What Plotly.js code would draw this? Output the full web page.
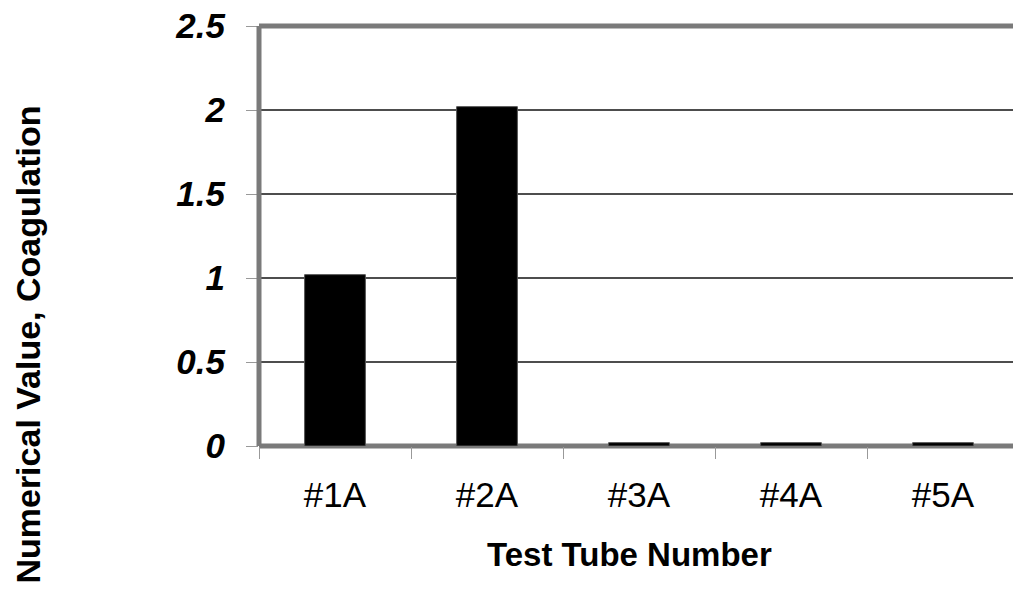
<!DOCTYPE html>
<html>
<head>
<meta charset="utf-8">
<script src="https://cdn.plot.ly/plotly-3.0.1.min.js"></script>
<style>
html,body{margin:0;padding:0;overflow:hidden;background:#fff;}
#chart{width:1020px;height:607px;}
</style>
</head>
<body>
<div id="chart"></div>
<script>
var categories = ["#1A", "#2A", "#3A", "#4A", "#5A"];
var coagulation = [1.02, 2.02, 0.02, 0.02, 0.02];
var yTickValues = [0, 0.5, 1, 1.5, 2, 2.5];
var yTickLabels = ["0", "0.5", "1", "1.5", "2", "2.5"];
var xTitle = "Test Tube Number";
var yTitle = "Numerical Value, Coagulation";

var F = "Liberation Sans, Arial, sans-serif";
var borderColor = "#7a7a7a";

var trace = {
  type: "bar",
  x: categories,
  y: coagulation,
  marker: {color: "#000000", line: {color: "#555555", width: 1}},
  hoverinfo: "x+y"
};

var layout = {
  width: 1020,
  height: 607,
  margin: {l: 259, r: 1, t: 26, b: 160.5},
  paper_bgcolor: "#ffffff",
  plot_bgcolor: "#ffffff",
  showlegend: false,
  bargap: 0.6,
  xaxis: {
    type: "category",
    tickson: "boundaries",
    ticks: "outside",
    ticklen: 12,
    tickwidth: 1,
    tickcolor: "#999999",
    showgrid: false,
    zeroline: false,
    showline: false,
    tickfont: {family: F, size: 35, color: "#000000"},
    ticklabelstandoff: 25
  },
  yaxis: {
    range: [0, 2.5],
    tickvals: yTickValues,
    ticktext: yTickLabels,
    ticks: "outside",
    ticklen: 12,
    tickwidth: 1,
    tickcolor: "#999999",
    showgrid: true,
    gridcolor: "#4d4d4d",
    gridwidth: 1.5,
    zeroline: false,
    showline: false,
    tickfont: {family: F, size: 35, color: "#000000", weight: "bold", style: "italic"},
    ticklabelstandoff: 14
  },
  shapes: [
    {type: "line", xref: "paper", yref: "paper", x0: 0, x1: 1, y0: 0, y1: 0, line: {color: borderColor, width: 5}, layer: "below"},
    {type: "line", xref: "paper", yref: "paper", x0: 0, x1: 1, y0: 1, y1: 1, line: {color: borderColor, width: 5}},
    {type: "line", xref: "paper", yref: "paper", x0: 0, x1: 0, y0: 0, y1: 1, line: {color: borderColor, width: 5}}
  ],
  annotations: [
    {text: xTitle, xref: "paper", yref: "paper", x: 0.488, y: -0.258, xanchor: "center", yanchor: "middle", showarrow: false,
     font: {family: F, size: 33, color: "#000000", weight: "bold"}},
    {text: yTitle, xref: "paper", yref: "paper", x: -0.304, y: 0.2414, xanchor: "center", yanchor: "middle", textangle: -90, showarrow: false,
     font: {family: F, size: 34, color: "#000000", weight: "bold"}}
  ]
};

Plotly.newPlot("chart", [trace], layout, {displayModeBar: false, staticPlot: true});
</script>
</body>
</html>
